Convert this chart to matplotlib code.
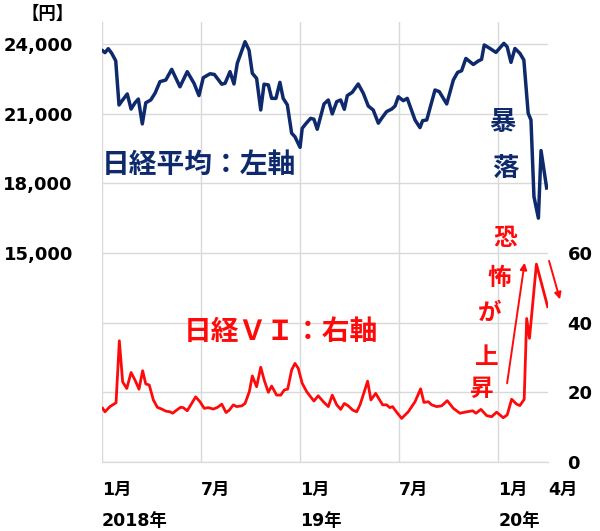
import matplotlib.pyplot as plt
from matplotlib.ticker import FuncFormatter

plt.rcParams['font.family'] = ['DejaVu Sans', 'Noto Sans CJK JP']
plt.rcParams['font.weight'] = 'bold'

NAVY = '#0e2a6c'
RED = '#ff0a0a'
GRID = '#d9d9d9'
JP = ['Noto Sans CJK JP', 'DejaVu Sans']

# time axis: months since the start of Jan 2018
nikkei_t = [0.04, 0.18, 0.38, 0.59, 0.83, 1.03, 1.25, 1.53, 1.76, 2.0, 2.2, 2.44,
            2.65, 2.95, 3.21, 3.51, 3.86, 4.22, 4.72, 5.16, 5.57, 5.87, 6.13, 6.54,
            6.8, 7.25, 7.45, 7.75, 7.99, 8.19, 8.66, 8.9, 9.1, 9.36, 9.61, 9.81,
            10.07, 10.27, 10.53, 10.77, 10.97, 11.22, 11.48, 11.68, 11.99, 12.12,
            12.39, 12.63, 12.83, 13.03, 13.44, 13.7, 13.94, 14.21, 14.45, 14.67,
            14.85, 15.15, 15.51, 15.82, 16.12, 16.42, 16.73, 16.93, 17.23, 17.54,
            17.74, 17.94, 18.24, 18.48, 18.95, 19.25, 19.41, 19.66, 20.16, 20.42,
            20.87, 21.27, 21.53, 21.77, 22.03, 22.48, 22.78, 22.98, 23.14, 23.49,
            23.85, 24.33, 24.53, 24.76, 25.0, 25.3, 25.54, 25.8, 25.97, 26.15,
            26.42, 26.58, 26.92]
nikkei = [23710, 23630, 23800, 23600, 23280, 21375, 21590, 21850, 21200, 21470,
          21630, 20560, 21470, 21590, 21880, 22380, 22450, 22910, 22160, 22810,
          22310, 21780, 22550, 22720, 22690, 22270, 22310, 22810, 22280, 23170,
          24100, 23740, 22740, 22520, 21160, 22270, 22240, 21660, 21660, 22350,
          21660, 21380, 20160, 20010, 19550, 20370, 20610, 20800, 20760, 20330,
          21420, 21590, 20990, 21520, 21590, 21190, 21780, 21920, 22280, 21880,
          21330, 21160, 20590, 20800, 21090, 21200, 21330, 21730, 21560, 21660,
          20730, 20400, 20700, 20730, 22020, 21950, 21420, 22450, 22780, 22850,
          23380, 23120, 23270, 23340, 23960, 23810, 23640, 24030, 23880, 23210,
          23810, 23600, 23310, 21020, 20730, 17430, 16500, 19410, 17800]

vi_t = [0.04, 0.18, 0.48, 0.85, 1.05, 1.25, 1.5, 1.76, 2.0, 2.24, 2.46, 2.65,
        2.86, 3.11, 3.35, 3.61, 3.86, 4.12, 4.28, 4.52, 4.76, 4.92, 5.16, 5.67,
        5.93, 6.19, 6.43, 6.74, 7.0, 7.25, 7.51, 7.71, 7.95, 8.15, 8.46, 8.66,
        8.92, 9.1, 9.36, 9.61, 9.82, 10.07, 10.27, 10.57, 10.82, 11.04, 11.24,
        11.48, 11.68, 11.88, 12.12, 12.39, 12.63, 12.83, 13.09, 13.4, 13.7,
        13.94, 14.21, 14.45, 14.67, 14.91, 15.18, 15.42, 15.62, 15.88, 16.08,
        16.28, 16.57, 16.77, 16.99, 17.23, 17.43, 17.59, 17.74, 18.14, 18.54,
        18.95, 19.29, 19.49, 19.75, 19.96, 20.26, 20.56, 20.9, 21.27, 21.67,
        22.08, 22.44, 22.64, 22.94, 23.29, 23.59, 23.89, 24.29, 24.53, 24.8,
        25.1, 25.3, 25.56, 25.71, 25.88, 26.3, 26.98]
vi = [15.4, 14.4, 15.9, 17.0, 34.8, 23.0, 21.1, 25.7, 23.5, 20.9, 26.2, 22.4,
      22.1, 17.8, 15.7, 15.2, 14.6, 14.4, 14.0, 14.9, 15.7, 15.6, 14.7, 18.7,
      17.3, 15.4, 15.6, 15.2, 15.7, 16.6, 14.2, 14.9, 16.4, 15.9, 16.1, 16.8,
      20.2, 24.7, 21.6, 27.2, 23.5, 20.0, 21.8, 19.2, 19.2, 20.7, 20.9, 26.4,
      28.3, 26.9, 22.6, 20.2, 18.7, 17.5, 19.0, 17.3, 15.9, 19.2, 16.4, 15.1,
      16.8, 16.1, 14.9, 14.4, 16.4, 20.2, 23.2, 17.8, 19.7, 18.1, 16.4, 16.4,
      15.6, 15.9, 14.9, 12.5, 14.4, 17.3, 21.0, 17.1, 17.3, 16.4, 15.9, 16.1,
      17.6, 15.4, 14.0, 14.4, 14.7, 14.0, 15.1, 13.3, 13.0, 14.3, 12.7, 13.5,
      18.0, 16.6, 16.2, 18.0, 41.2, 35.5, 56.8, 44.6]

tick_pos = [0, 6, 12, 18, 24, 27]
tick_labels = ['1月\n2018年', '7月', '1月\n19年', '7月', '1月\n20年', '4月']
left_ticks = list(range(6000, 24001, 3000))
right_ticks = [0, 20, 40, 60]

fig = plt.figure(figsize=(6, 5.31), dpi=100)
ax = fig.add_axes([0.17, 0.13, 0.7433, 0.8286])
ax2 = ax.twinx()

ax.plot(nikkei_t, nikkei, color=NAVY, lw=2.5, solid_joinstyle='round')
ax2.plot(vi_t, vi, color=RED, lw=2.0, solid_joinstyle='round')

ax.set_xlim(0, 27)
ax.set_ylim(6000, 24950)
ax2.set_ylim(0, 18950 / 150)

ax.set_yticks(left_ticks)
ax.yaxis.set_major_formatter(FuncFormatter(lambda v, p: f'{v:,.0f}' if v >= 15000 else ''))
ax2.set_yticks(right_ticks)
ax.set_xticks(tick_pos)
ax.set_xticklabels(tick_labels, ha='left', linespacing=1.9)

ax.grid(True, color=GRID, lw=1)
ax.xaxis.get_gridlines()[-1].set_visible(False)
for a in (ax, ax2):
    for s in ('top', 'right', 'left'):
        a.spines[s].set_visible(False)
    a.spines['bottom'].set_color(GRID)
ax.tick_params(axis='y', length=0, pad=21, labelsize=13)
ax2.tick_params(axis='y', length=0, pad=14, labelsize=13)
ax.tick_params(axis='x', length=0, pad=14, labelsize=12.5)

fig.text(0.08, 0.973, '【円】', fontsize=12.5, ha='center', va='center', family=JP)

ax.text(0.0, 18790, '日経平均：左軸', color=NAVY, fontsize=20, ha='left', va='center', family=JP)
ax2.text(4.92, 37.2, '日経ＶＩ：右軸', color=RED, fontsize=20, ha='left', va='center', family=JP)

# 暴落 (vertical)
for ch, x, y in [('暴', 24.23, 20640), ('落', 24.4, 18660)]:
    ax.text(x, y, ch, color=NAVY, fontsize=19, ha='center', va='center', family=JP)

# 恐怖が上昇 (slanted column)
for ch, x, y in [('恐', 24.39, 64.3), ('怖', 24.03, 52.8), ('が', 23.49, 42.8),
                 ('上', 23.31, 30.2), ('昇', 23.0, 20.9)]:
    ax2.text(x, y, ch, color=RED, fontsize=17, ha='center', va='center', family=JP)

ax2.annotate('', xy=(25.61, 58.0), xytext=(24.5, 21.8), annotation_clip=False,
             arrowprops=dict(arrowstyle='-|>', color=RED, lw=1.4, mutation_scale=10))
ax2.annotate('', xy=(27.77, 45.9), xytext=(27.02, 58.5), annotation_clip=False,
             arrowprops=dict(arrowstyle='-|>', color=RED, lw=1.4, mutation_scale=10))

fig.savefig('out.png', dpi=100)
